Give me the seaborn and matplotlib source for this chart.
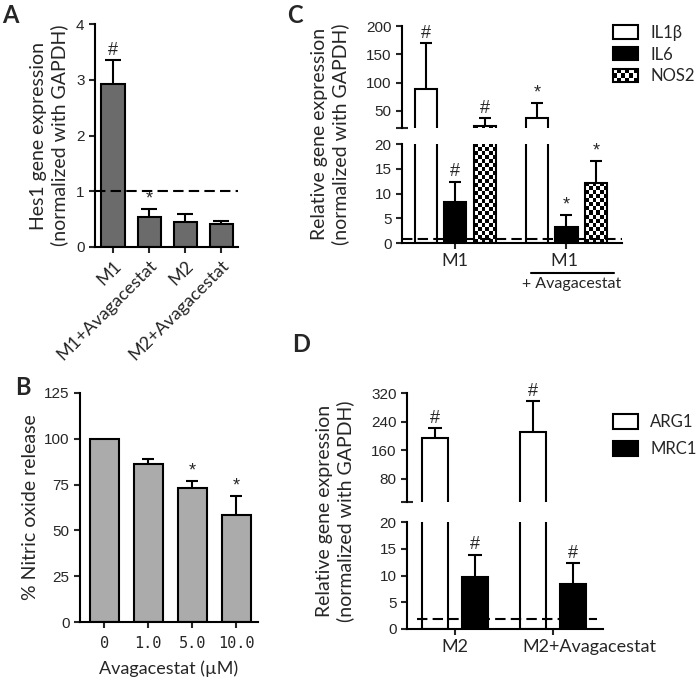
import numpy as np
import pandas as pd
import matplotlib
matplotlib.use("Agg")
import matplotlib.pyplot as plt
import matplotlib.patches as mpatches
from matplotlib.legend_handler import HandlerBase
from matplotlib.transforms import ScaledTranslation
import seaborn as sns

# ---- data ----
# A: Hes1 expression
a_groups = ["M1", "M1+Avagacestat", "M2", "M2+Avagacestat"]
a_mean = [2.93, 0.53, 0.45, 0.41]
a_sem = [0.42, 0.16, 0.15, 0.05]
a_sig = ["#", "*", "", ""]

# B: nitric oxide release
b_dose = ["0", "1.0", "5.0", "10.0"]
b_mean = [100, 86.5, 73, 58.5]
b_sem = [np.nan, 2.5, 4.0, 10.5]
b_sig = ["", "", "*", "*"]

# C: M1 markers
c_groups = ["M1", "M1 "]
c_genes = ["IL1β", "IL6", "NOS2"]
c_il1b, c_il1b_sem = [89, 37], [81, 27]
c_il6, c_il6_sem = [8.2, 3.3], [4.2, 2.3]
c_nos2, c_nos2_sem = [24, 12.2], [13, 4.4]
c_sig = ["#", "*", "#", "*", "#", "*"]

# D: M2 markers
d_groups = ["M2", "M2+Avagacestat"]
d_genes = ["ARG1", "MRC1"]
d_arg1, d_arg1_sem = [194, 211], [27, 86]
d_mrc1, d_mrc1_sem = [9.8, 8.5], [4.1, 3.8]
d_sig = ["#", "#", "#", "#"]

c_df = pd.DataFrame({
    "group": c_groups * 3,
    "gene": np.repeat(c_genes, len(c_groups)),
    "value": c_il1b + c_il6 + c_nos2,
    "sem": c_il1b_sem + c_il6_sem + c_nos2_sem,
    "sig": c_sig,
})
d_df = pd.DataFrame({
    "group": d_groups * 2,
    "gene": np.repeat(d_genes, len(d_groups)),
    "value": d_arg1 + d_mrc1,
    "sem": d_arg1_sem + d_mrc1_sem,
    "sig": d_sig,
})

sns.set_style("ticks")
plt.rcParams["font.family"] = ["Lato", "DejaVu Sans"]
plt.rcParams["axes.linewidth"] = 1.5
plt.rcParams["xtick.major.width"] = 1.5
plt.rcParams["ytick.major.width"] = 1.5
plt.rcParams["xtick.major.size"] = 4
plt.rcParams["ytick.major.size"] = 4
plt.rcParams["axes.edgecolor"] = "black"

W, H = 697, 680
fig = plt.figure(figsize=(W / 100, H / 100), dpi=100)


def box(x0, y0, x1, y1):
    return [x0 / W, 1 - y1 / H, (x1 - x0) / W, (y1 - y0) / H]


NUM_FONT = "Liberation Sans"
DASH = (0, (5, 2.5))
YLAB_SIZE = 14


def num_ticks(ax, size=11):
    for lab in ax.get_yticklabels():
        lab.set_fontfamily(NUM_FONT)
        lab.set_fontsize(size)


def add_err(ax, xs, hs, sems, capsize):
    if len(xs) == 0:
        return
    _, caps, _ = ax.errorbar(xs, hs, yerr=[np.zeros(len(sems)), sems], fmt="none",
                             ecolor="black", elinewidth=1.5, capsize=capsize,
                             capthick=1.5, zorder=0.5)
    # drop the cap sitting on the bar top; keep only the upper one
    caps[0].set_visible(False)


def bar_err(ax, bars, sems, capsize):
    add_err(ax, [b.get_x() + b.get_width() / 2 for b in bars],
            [b.get_height() for b in bars], sems, capsize)


def add_sig(ax, x, y, sym):
    if sym:
        ax.annotate(sym, (x, y), xytext=(0, 1), textcoords="offset points",
                    ha="center", va="bottom", fontsize=13, family=NUM_FONT)


def checker(ax, patch, cell=4):
    lo, hi = ax.get_ylim()
    x0, w = patch.get_x(), patch.get_width()
    y0 = max(patch.get_y(), lo)
    y1 = min(patch.get_y() + patch.get_height(), hi)
    if y1 <= y0:
        return
    p0 = ax.transData.transform((x0, y0))
    p1 = ax.transData.transform((x0 + w, y1))
    nc = max(1, int(round(abs(p1[0] - p0[0]) / cell)))
    nr = max(1, int(round(abs(p1[1] - p0[1]) / cell)))
    grid = np.add.outer(np.arange(nr), np.arange(nc)) % 2
    ax.imshow(grid, cmap="gray", extent=(x0, x0 + w, y0, y1), aspect="auto",
              interpolation="nearest", origin="lower", zorder=0.9)
    patch.set_facecolor("none")
    patch.set_zorder(1.2)


class CheckerHandler(HandlerBase):
    def create_artists(self, legend, orig_handle, xdescent, ydescent,
                       width, height, fontsize, trans):
        arts = [mpatches.Rectangle((-xdescent, -ydescent), width, height,
                                   fc="white", ec="none", transform=trans)]
        nx, ny = 6, 3
        for i in range(nx):
            for j in range(ny):
                if (i + j) % 2:
                    arts.append(mpatches.Rectangle(
                        (-xdescent + i * width / nx, -ydescent + j * height / ny),
                        width / nx, height / ny, fc="black", lw=0, transform=trans))
        arts.append(mpatches.Rectangle((-xdescent, -ydescent), width, height,
                                       fc="none", ec="black", lw=1.5, transform=trans))
        return arts


# ================= Panel A =================
ax_a = fig.add_axes(box(95, 24, 238, 247))
sns.barplot(x=a_groups, y=a_mean, order=a_groups, color="#6b6b6b", saturation=1,
            edgecolor="black", linewidth=1.5, width=0.64, errorbar=None, ax=ax_a)
ax_a.set_xlim(-0.5, 3.47)
ax_a.set_ylim(0, 4)
ax_a.set_yticks([0, 1, 2, 3, 4])
bars_a = ax_a.containers[0]
bar_err(ax_a, bars_a, a_sem, 6)
for b, m, s, sym in zip(bars_a, a_mean, a_sem, a_sig):
    add_sig(ax_a, b.get_x() + b.get_width() / 2, m + s, sym)
ax_a.axhline(1, color="black", lw=1.5, ls=DASH, zorder=3)
ax_a.set_xticks(range(len(a_groups)))
ax_a.set_xticklabels(a_groups, rotation=45, ha="right", rotation_mode="anchor", fontsize=13)
ax_a.set_ylabel("Hes1 gene expression\n(normalized with GAPDH)", fontsize=YLAB_SIZE,
                labelpad=6)
sns.despine(ax=ax_a)
num_ticks(ax_a)

# ================= Panel B =================
ax_b = fig.add_axes(box(80, 393, 258, 622))
sns.barplot(x=b_dose, y=b_mean, order=b_dose, color="#ababab", saturation=1,
            edgecolor="black", linewidth=1.5, width=0.66, errorbar=None, ax=ax_b)
ax_b.set_xlim(-0.55, 3.5)
ax_b.set_ylim(0, 125)
ax_b.set_yticks([0, 25, 50, 75, 100, 125])
bars_b = ax_b.containers[0]
keep = [i for i, s in enumerate(b_sem) if not np.isnan(s)]
bar_err(ax_b, [bars_b[i] for i in keep], [b_sem[i] for i in keep], 4.5)
for b, m, s, sym in zip(bars_b, b_mean, b_sem, b_sig):
    add_sig(ax_b, b.get_x() + b.get_width() / 2, m + (0 if np.isnan(s) else s), sym)
ax_b.tick_params(axis="x", pad=6)
for lab in ax_b.get_xticklabels():
    lab.set_fontfamily("DejaVu Sans Mono")
    lab.set_fontsize(11)
ax_b.set_xlabel("Avagacestat (µM)", fontsize=13, labelpad=7)
ax_b.set_ylabel("% Nitric oxide release", fontsize=YLAB_SIZE, labelpad=4)
sns.despine(ax=ax_b)
num_ticks(ax_b)


# ============ broken-axis helper for C and D ============
def broken(x0, x1, up_box, lo_box, df, genes, groups, palette, gap, up_lim, up_ticks,
           xlim, capsize, hatch_gene=None):
    ax_up = fig.add_axes(box(x0, up_box[0], x1, up_box[1]))
    ax_lo = fig.add_axes(box(x0, lo_box[0], x1, lo_box[1]))
    for ax in (ax_up, ax_lo):
        sns.barplot(data=df, x="group", y="value", hue="gene", order=groups,
                    hue_order=genes, palette=palette, saturation=1, edgecolor="black",
                    linewidth=1.5, width=0.8, gap=gap, errorbar=None, legend=False, ax=ax)
        ax.set_xlim(*xlim)
        ax.set_xlabel("")
        ax.set_ylabel("")
    ax_up.set_ylim(*up_lim)
    ax_up.set_yticks(up_ticks)
    ax_lo.set_ylim(0, 20)
    ax_lo.set_yticks([0, 5, 10, 15, 20])
    for gene, cu, cl in zip(genes, ax_up.containers, ax_lo.containers):
        sub = df[df["gene"] == gene]
        xs = [b.get_x() + b.get_width() / 2 for b in cl]
        rows = list(zip(xs, sub["value"], sub["sem"]))
        # error bar drawn on the axis (or axes) its span reaches
        up = [r for r in rows if r[1] + r[2] > up_lim[0]]
        lo = [r for r in rows if r[1] < 20]
        add_err(ax_up, [r[0] for r in up], [r[1] for r in up], [r[2] for r in up], capsize)
        add_err(ax_lo, [r[0] for r in lo], [r[1] for r in lo], [r[2] for r in lo], capsize)
        if gene == hatch_gene:
            for p in list(cu) + list(cl):
                checker(p.axes, p)
        for (x, m, s), sym in zip(rows, sub["sig"]):
            add_sig(ax_lo if m + s < 20 else ax_up, x, m + s, sym)
    ax_up.tick_params(axis="x", bottom=False, labelbottom=False)
    ax_up.spines[["top", "right", "bottom"]].set_visible(False)
    ax_lo.spines[["top", "right"]].set_visible(False)
    ax_up.set_yticks([up_lim[0]], minor=True)
    ax_lo.set_yticks([20], minor=True)
    for ax in (ax_up, ax_lo):
        ax.tick_params(axis="y", which="minor", direction="inout", length=8, width=1.5)
        num_ticks(ax)
    ax_lo.set_xticks(range(len(groups)))
    ax_lo.set_xticklabels(groups, fontsize=13)
    return ax_up, ax_lo


LEG = dict(loc="upper left", frameon=False, fontsize=12, handlelength=1.5,
           handletextpad=0.75, borderaxespad=0)

# ================= Panel C =================
c_up, c_lo = broken(402, 622, (26, 128), (144, 243), c_df, c_genes, c_groups,
                    {"IL1β": "white", "IL6": "black", "NOS2": "white"}, 0.25,
                    (20, 200), [50, 100, 150, 200], (-0.48, 1.5), 4, hatch_gene="NOS2")
c_lo.axhline(0.8, color="black", lw=1.5, ls=DASH, zorder=3)
blend_c = c_lo.get_xaxis_transform()
c_lo.plot([0.685, 1.432], [-0.30, -0.30], color="black", lw=1.5,
          transform=blend_c, clip_on=False)
c_lo.text(1.05, -0.41, "+ Avagacestat", transform=blend_c, ha="center", va="center",
          fontsize=11.5)
fig.text(330 / W, 1 - 134 / H, "Relative gene expression\n(normalized with GAPDH)",
         rotation=90, ha="center", va="center", fontsize=YLAB_SIZE)
nos2_handle = mpatches.Patch(fc="white", ec="black", lw=1.5)
fig.legend(
    handles=[mpatches.Patch(fc="white", ec="black", lw=1.5),
             mpatches.Patch(fc="black", ec="black", lw=1.5),
             nos2_handle],
    labels=c_genes, bbox_to_anchor=(606 / W, 1 - 18 / H), handleheight=0.85,
    labelspacing=0.35, handler_map={nos2_handle: CheckerHandler()}, **LEG)

# ================= Panel D =================
d_up, d_lo = broken(407, 603, (393, 502), (522, 629), d_df, d_genes, d_groups,
                    {"ARG1": "white", "MRC1": "black"}, 0.34,
                    (15, 320), [80, 160, 240, 320], (-0.49, 1.51), 5)
d_lo.axhline(1.9, xmin=0.05, xmax=0.97, color="black", lw=1.5, ls=DASH, zorder=3)
lab = d_lo.get_xticklabels()[1]
lab.set_transform(lab.get_transform() + ScaledTranslation(0.36, 0, fig.dpi_scale_trans))
fig.text(335 / W, 1 - 511 / H, "Relative gene expression\n(normalized with GAPDH)",
         rotation=90, ha="center", va="center", fontsize=YLAB_SIZE)
fig.legend(
    handles=[mpatches.Patch(fc="white", ec="black", lw=1.5),
             mpatches.Patch(fc="black", ec="black", lw=1.5)],
    labels=d_genes, bbox_to_anchor=(606 / W, 1 - 407 / H), handleheight=1.0,
    labelspacing=0.65, **LEG)

# panel letters
for letter, (px, py) in {"A": (2, 4), "B": (15, 376), "C": (287, 4), "D": (292, 333)}.items():
    fig.text(px / W, 1 - py / H, letter, fontsize=17, fontweight="bold", ha="left", va="top")

fig.savefig("out.png", dpi=100)
